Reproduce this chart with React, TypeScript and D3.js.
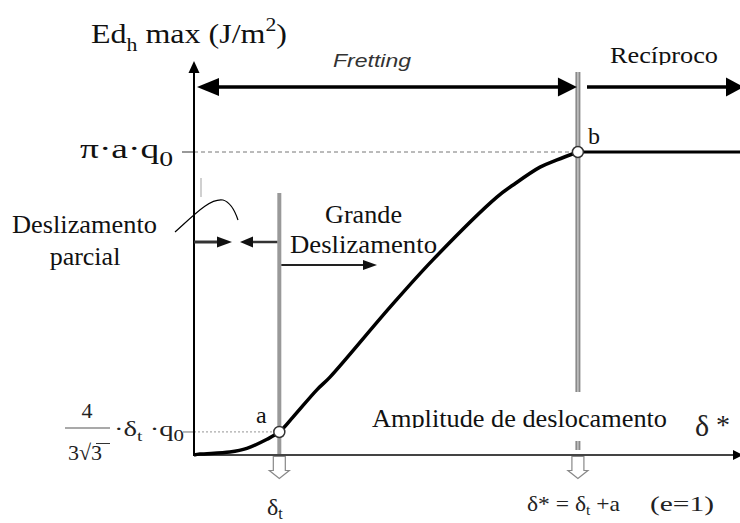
import React from 'react';
import * as d3 from 'd3';

// Energy curve: displacement amplitude (in units of δt) vs. dissipated energy (in units of π·a·q0)
const amplitude = [0, 0.07, 0.42, 0.62, 0.856, 1.0, 1.16, 1.44, 1.594, 2.298, 2.8, 3.55, 3.74, 4.056, 4.255, 4.5];
const energy = [0, 0.003, 0.01, 0.022, 0.052, 0.076, 0.125, 0.215, 0.257, 0.488, 0.644, 0.851, 0.891, 0.95, 0.974, 1];

// Characteristic points
const deltaT = 1; // transition amplitude δt (point a)
const deltaStar = 4.5; // δ* = δt + a (point b)
const energyA = 0.076; // 4/(3√3)·δt·q0
const energyB = 1; // π·a·q0
const xMax = 6.4;
const yMax = 1.3;

const SERIF = 'Times New Roman, Liberation Serif, Tinos, Times, serif';
const SANS = 'Arial, Liberation Sans, Arimo, Helvetica, sans-serif';

type Dir = 'l' | 'r' | 'u';
function head(tx: number, ty: number, dir: Dir, len: number, half: number): string {
  if (dir === 'r') return `${tx},${ty} ${tx - len},${ty - half} ${tx - len},${ty + half}`;
  if (dir === 'l') return `${tx},${ty} ${tx + len},${ty - half} ${tx + len},${ty + half}`;
  return `${tx},${ty} ${tx - half},${ty + len} ${tx + half},${ty + len}`;
}

function hollowDown(cx: number, top: number): string {
  return `M${cx - 6},${top} L${cx - 6},${top + 14} L${cx - 10},${top + 14} L${cx},${top + 22} L${cx + 10},${top + 14} L${cx + 6},${top + 14} L${cx + 6},${top} Z`;
}

export default function App() {
  const x = d3.scaleLinear().domain([0, xMax]).range([194, 740]);
  const y = d3.scaleLinear().domain([0, energyB]).range([455, 152]);

  const pts: [number, number][] = amplitude.map((a, i) => [a, energy[i]]);
  const line = d3
    .line<[number, number]>()
    .x((d) => x(d[0]))
    .y((d) => y(d[1]))
    .curve(d3.curveCatmullRom.alpha(0.5));

  const x0 = x(0);
  const y0 = y(0);
  const xa = x(deltaT);
  const ya = y(energyA);
  const xb = x(deltaStar);
  const yb = y(energyB);
  const yTop = y(yMax);
  const xEnd = x(xMax);

  const arrowY = 87;

  return (
    <svg
      width={740}
      height={523}
      style={{ position: 'absolute', left: 0, top: 0, background: '#fff' }}
      xmlns="http://www.w3.org/2000/svg"
    >
      <defs>
        <clipPath id="clipRecip">
          <rect x={560} y={30} width={180} height={35} />
        </clipPath>
        <clipPath id="clipAmp">
          <rect x={360} y={390} width={320} height={38} />
        </clipPath>
      </defs>

      {/* reference lines to the axis */}
      <line x1={x0} x2={xb} y1={yb} y2={yb} stroke="#777" strokeWidth={1} strokeDasharray="4 3" />
      <line x1={x0} x2={xa} y1={ya} y2={ya} stroke="#aaa" strokeWidth={1.2} strokeDasharray="2 2" />
      <line x1={182} x2={x0} y1={yb} y2={yb} stroke="#777" strokeWidth={1.5} />
      <line x1={183} x2={x0} y1={ya} y2={ya} stroke="#888" strokeWidth={1.2} />

      {/* vertical markers at δt and δ* */}
      <line x1={xa} x2={xa} y1={193} y2={458} stroke="#999" strokeWidth={4} />
      <line x1={xb} x2={xb} y1={72} y2={450} stroke="#8a8a8a" strokeWidth={5} />
      <line x1={xb} x2={xb} y1={72} y2={450} stroke="#c4c4c4" strokeWidth={1.5} />
      <line x1={201} x2={201} y1={178} y2={197} stroke="#c0c0c0" strokeWidth={1.5} />

      {/* axes */}
      <line x1={x0} x2={x0} y1={y0 + 1} y2={yTop + 10} stroke="#000" strokeWidth={2} />
      <polygon points={head(x0, yTop, 'u', 12, 5.5)} fill="#000" />
      <line x1={x0} x2={xEnd - 4} y1={y0} y2={y0} stroke="#444" strokeWidth={1.8} />
      <polygon points={head(xEnd + 3, y0, 'r', 10, 5)} fill="#000" />

      {/* hollow arrows pointing to the axis values */}
      <path d={hollowDown(xa, y0 + 1.5)} fill="#fff" stroke="#888" strokeWidth={1.2} />
      <path d={hollowDown(xb, y0 + 1.5)} fill="#fff" stroke="#888" strokeWidth={1.2} />

      {/* energy curve and plateau */}
      <path d={line(pts) ?? ''} fill="none" stroke="#000" strokeWidth={3.5} strokeLinejoin="round" />
      <line x1={xb} x2={xEnd} y1={yb} y2={yb} stroke="#000" strokeWidth={3} />
      <circle cx={xa} cy={ya} r={5.5} fill="#fff" stroke="#333" strokeWidth={1.5} />
      <circle cx={xb} cy={yb} r={5.5} fill="#fff" stroke="#333" strokeWidth={1.5} />

      {/* regime arrows */}
      <line x1={x0 + 18} x2={xb - 18} y1={arrowY} y2={arrowY} stroke="#000" strokeWidth={3.5} />
      <polygon points={head(x0 + 3, arrowY, 'l', 22, 9)} fill="#000" />
      <polygon points={head(xb - 1, arrowY, 'r', 19, 9.5)} fill="#000" />
      <line x1={587} x2={xEnd - 12} y1={arrowY} y2={arrowY} stroke="#000" strokeWidth={3.5} />
      <polygon points={head(xEnd + 4, arrowY, 'r', 18, 9.5)} fill="#000" />

      {/* slip regime arrows */}
      <line x1={x0} x2={222} y1={242} y2={242} stroke="#333" strokeWidth={3} />
      <polygon points={head(232, 242, 'r', 15, 5.5)} fill="#111" />
      <line x1={xa - 2} x2={250} y1={242} y2={242} stroke="#333" strokeWidth={2.5} />
      <polygon points={head(240, 242, 'l', 13, 5.5)} fill="#111" />
      <line x1={xa + 2} x2={366} y1={265} y2={265} stroke="#222" strokeWidth={2} />
      <polygon points={head(377, 265, 'r', 14, 5)} fill="#111" />

      {/* leader curve for the partial slip label */}
      <path
        d="M175,232 C195,214 210,198 223,200 C230,202 235,211 238,220"
        fill="none"
        stroke="#000"
        strokeWidth={1.2}
      />

      {/* axis title */}
      <text x={91} y={43} fontFamily={SERIF} fontSize={28} fill="#111" textLength={196} lengthAdjust="spacingAndGlyphs">
        Ed
        <tspan fontSize={19} dy={8}>h</tspan>
        <tspan dy={-8}> max (J/m</tspan>
        <tspan fontSize={19} dy={-12}>2</tspan>
        <tspan dy={12}>)</tspan>
      </text>

      {/* regime labels */}
      <text x={333} y={67} fontFamily={SANS} fontStyle="italic" fontSize={19} fill="#333" textLength={78} lengthAdjust="spacingAndGlyphs">
        Fretting
      </text>
      <g clipPath="url(#clipRecip)">
        <text x={610} y={63} fontFamily={SERIF} fontSize={24} fill="#111" textLength={108} lengthAdjust="spacingAndGlyphs">
          Recíproco
        </text>
      </g>

      {/* y-level labels */}
      <text x={80} y={158} fontFamily={SERIF} fontSize={27} fill="#111" textLength={93} lengthAdjust="spacingAndGlyphs">
        π·a·q<tspan fontSize={20} dy={8}>0</tspan>
      </text>
      <text x={87} y={418} fontFamily={SERIF} fontSize={22} fill="#222" textAnchor="middle">4</text>
      <line x1={65} x2={110} y1={428} y2={428} stroke="#555" strokeWidth={1.2} />
      <text x={68} y={460} fontFamily={SERIF} fontSize={22} fill="#222">3√3</text>
      <line x1={96} x2={110} y1={443.5} y2={443.5} stroke="#333" strokeWidth={1} />
      <text x={114} y={436} fontFamily={SERIF} fontSize={22} fill="#222" textLength={70} lengthAdjust="spacingAndGlyphs">
        ·δ<tspan fontSize={15} dy={5}>t</tspan>
        <tspan dy={-5}> ·q</tspan>
        <tspan fontSize={16} dy={5}>0</tspan>
      </text>

      {/* point labels */}
      <text x={256} y={423} fontFamily={SERIF} fontSize={24} fill="#111">a</text>
      <text x={588} y={144} fontFamily={SERIF} fontSize={24} fill="#111">b</text>

      {/* slip annotations */}
      <text x={12} y={233} fontFamily={SERIF} fontSize={26} fill="#111" textLength={145} lengthAdjust="spacingAndGlyphs">
        Deslizamento
      </text>
      <text x={85} y={265} fontFamily={SERIF} fontSize={26} fill="#111" textAnchor="middle">parcial</text>
      <text x={325} y={223} fontFamily={SERIF} fontSize={26} fill="#111" textLength={77} lengthAdjust="spacingAndGlyphs">
        Grande
      </text>
      <text x={290} y={253} fontFamily={SERIF} fontSize={26} fill="#111" textLength={147} lengthAdjust="spacingAndGlyphs">
        Deslizamento
      </text>

      {/* x-axis label */}
      <rect x={368} y={392} width={303} height={49} fill="#fff" />
      <g clipPath="url(#clipAmp)">
        <text x={372} y={427} fontFamily={SERIF} fontSize={26} fill="#111" textLength={295} lengthAdjust="spacingAndGlyphs">
          Amplitude de deslocamento
        </text>
      </g>
      <text x={695} y={436} fontFamily={SERIF} fontSize={30} fill="#222">δ</text>
      <text x={716} y={434} fontFamily={SERIF} fontSize={28} fill="#222">*</text>

      {/* axis value labels */}
      <text x={267} y={515} fontFamily={SERIF} fontSize={24} fill="#222">
        δ<tspan fontSize={16} dy={4}>t</tspan>
      </text>
      <text x={527} y={511} fontFamily={SERIF} fontSize={21} fill="#222" textLength={93} lengthAdjust="spacingAndGlyphs">
        δ* = δ<tspan fontSize={14} dy={4}>t</tspan>
        <tspan dy={-4}> +a</tspan>
      </text>
      <text x={650} y={511} fontFamily={SERIF} fontSize={22} fill="#222" textLength={64} lengthAdjust="spacingAndGlyphs">
        (e=1)
      </text>
    </svg>
  );
}
